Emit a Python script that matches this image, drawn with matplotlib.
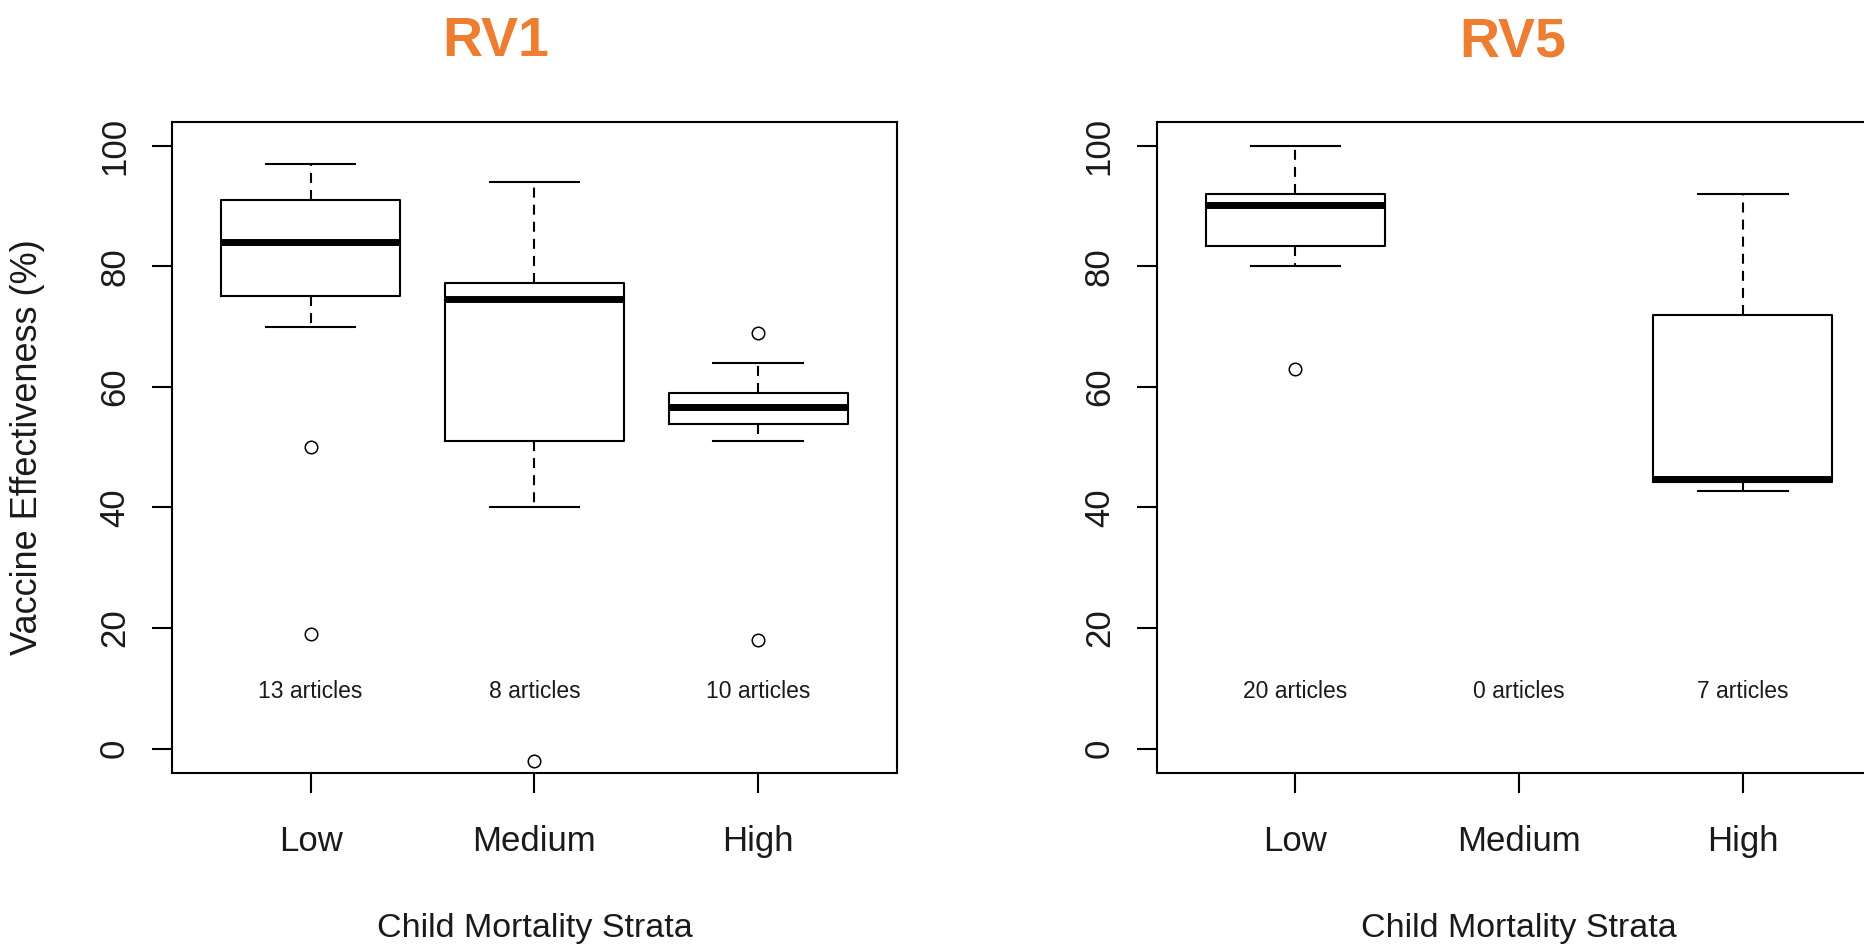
import matplotlib
matplotlib.use("Agg")
from matplotlib import pyplot as plt

plt.rcParams['font.family'] = ['Liberation Sans', 'DejaVu Sans']

# strata on the x axis
strata = ['Low', 'Medium', 'High']
positions = [1, 2, 3]

# RV1 box statistics per stratum (Low, Medium, High)
rv1_whislo = [70, 40, 51]
rv1_q1 = [75, 51, 53.8]
rv1_med = [84, 74.6, 56.7]
rv1_q3 = [91, 77.3, 59]
rv1_whishi = [97, 94, 64]
rv1_fliers = [[50, 19], [-2], [69, 18]]
rv1_articles = [13, 8, 10]

# RV5 box statistics, only Low and High have studies
rv5_pos = [1, 3]
rv5_whislo = [80, 42.7]
rv5_q1 = [83.3, 44.3]
rv5_med = [90.1, 44.8]
rv5_q3 = [92, 72]
rv5_whishi = [100, 92]
rv5_fliers = [[63], []]
rv5_articles = [20, 0, 7]

orange = '#ED7D31'
ink = '#1a1a1a'


def make_stats(lo, q1, med, q3, hi, fl):
    out = []
    for i in range(len(med)):
        out.append(dict(whislo=lo[i], q1=q1[i], med=med[i], q3=q3[i],
                        whishi=hi[i], fliers=fl[i]))
    return out


def draw_panel(ax, stats, pos, articles, show_ylabel):
    ax.bxp(stats, positions=pos, widths=0.8, capwidths=0.4,
           boxprops=dict(color='black', linewidth=1.5),
           whiskerprops=dict(color='black', linewidth=1.5,
                             linestyle=(0, (4.8, 3.4))),
           capprops=dict(color='black', linewidth=1.5),
           medianprops=dict(color='black', linewidth=5,
                            solid_capstyle='butt'),
           flierprops=dict(marker='o', markerfacecolor='none',
                           markeredgecolor='black', markersize=9,
                           markeredgewidth=1.1),
           manage_ticks=False)
    for x, n in zip(positions, articles):
        ax.text(x, 9.4, '%d articles' % n, ha='center', va='center',
                fontsize=16.5, color=ink)
    ax.set_xlim(0.38, 3.62)
    ax.set_ylim(-4, 104)
    ax.set_xticks(positions)
    ax.set_xticklabels(strata, fontsize=25, color=ink)
    ax.set_yticks([0, 20, 40, 60, 80, 100])
    ax.set_yticklabels(['0', '20', '40', '60', '80', '100'], fontsize=25,
                       color=ink, rotation=90, va='center')
    ax.tick_params(axis='x', length=14.4, width=1.5, pad=23)
    ax.tick_params(axis='y', length=14.4, width=1.5, pad=15)
    for sp in ax.spines.values():
        sp.set_linewidth(1.5)
    ax.set_xlabel('Child Mortality Strata', fontsize=24.5, color=ink, va='top')
    ax.xaxis.set_label_coords(0.5, -0.2148)
    if show_ylabel:
        ax.set_ylabel('Vaccine Effectiveness (%)', fontsize=26, color=ink)
        ax.yaxis.set_label_coords(-0.1745, 0.5)


fig = plt.figure(figsize=(18.65, 9.46), dpi=100)
ax1 = fig.add_axes([0.0922, 0.1832, 0.3887, 0.6882])
ax2 = fig.add_axes([0.6202, 0.1832, 0.3887, 0.6882])

draw_panel(ax1, make_stats(rv1_whislo, rv1_q1, rv1_med, rv1_q3, rv1_whishi,
                           rv1_fliers), positions, rv1_articles, True)
draw_panel(ax2, make_stats(rv5_whislo, rv5_q1, rv5_med, rv5_q3, rv5_whishi,
                           rv5_fliers), rv5_pos, rv5_articles, False)

fig.text(0.266, 0.9408, 'RV1', color=orange, fontsize=40, fontweight='bold',
         ha='center', va='baseline')
fig.text(0.8113, 0.9408, 'RV5', color=orange, fontsize=40, fontweight='bold',
         ha='center', va='baseline')

fig.savefig('out.png', dpi=100)
